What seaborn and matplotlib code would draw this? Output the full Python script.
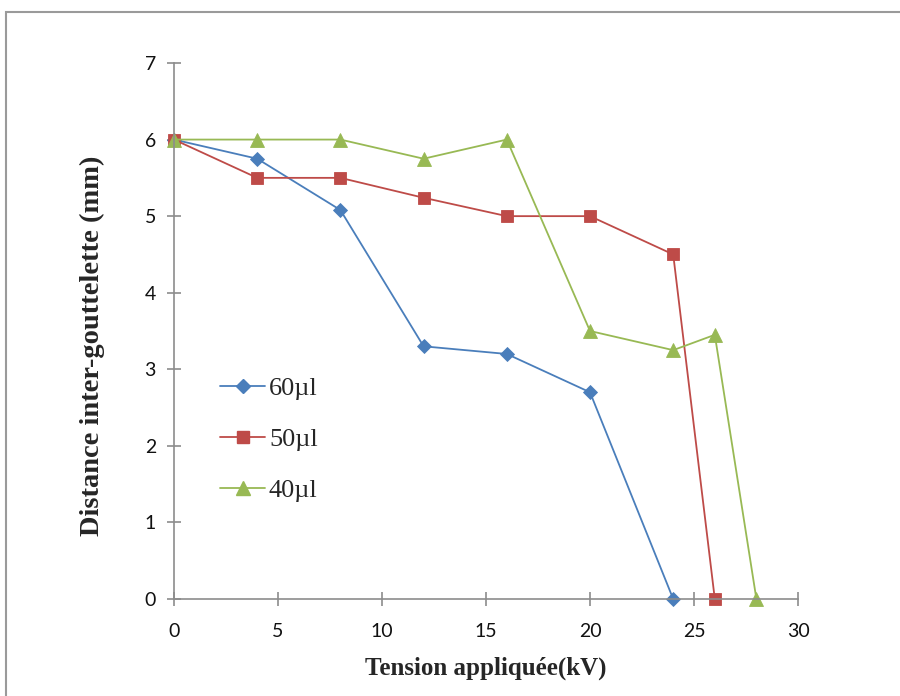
import matplotlib
matplotlib.use("Agg")
import matplotlib.pyplot as plt
import matplotlib.patches as mpatches
import seaborn as sns
import pandas as pd

# data
x_60 = [0, 4, 8, 12, 16, 20, 24]
y_60 = [6, 5.75, 5.08, 3.3, 3.2, 2.7, 0]
x_50 = [0, 4, 8, 12, 16, 20, 24, 26]
y_50 = [6, 5.5, 5.5, 5.24, 5, 5, 4.5, 0]
x_40 = [0, 4, 8, 12, 16, 20, 24, 26, 28]
y_40 = [6, 6, 6, 5.75, 6, 3.5, 3.25, 3.45, 0]
series = ["60µl", "50µl", "40µl"]

df = pd.concat([
    pd.DataFrame({"x": x_60, "y": y_60, "serie": series[0]}),
    pd.DataFrame({"x": x_50, "y": y_50, "serie": series[1]}),
    pd.DataFrame({"x": x_40, "y": y_40, "serie": series[2]}),
])

sns.set_style("white")
plt.rcParams["font.family"] = ["Lato", "DejaVu Sans"]

fig = plt.figure(figsize=(9, 6.96), dpi=100)
ax = fig.add_axes([174 / 900, 1 - 599 / 696, 624 / 900, 536 / 696])

# grey frame around the chart area
fig.patches.append(mpatches.Rectangle((6 / 900, -0.1), 1.2, 1 - 12 / 696 + 0.1,
                                      transform=fig.transFigure, fill=False,
                                      edgecolor="#9a9a9a", linewidth=1.5))

palette = {"60µl": "#4A7EBB", "50µl": "#BE4B48", "40µl": "#98B954"}
markers = {"60µl": "D", "50µl": "s", "40µl": "^"}
sizes = {"60µl": 7, "50µl": 9, "40µl": 10}

sns.lineplot(data=df, x="x", y="y", hue="serie", style="serie",
             palette=palette, markers=markers, dashes=False,
             linewidth=1.3, markersize=9, markeredgewidth=0.6,
             ax=ax, legend=False, clip_on=False)
for line, s in zip(ax.lines, series):
    line.set_markersize(sizes[s])
    line.set_markeredgecolor(palette[s])

ax.set_xlim(0, 30)
ax.set_ylim(0, 7)
ax.set_xticks(range(0, 31, 5))
ax.set_yticks(range(0, 8))
for side in ["top", "right"]:
    ax.spines[side].set_visible(False)
for side in ["left", "bottom"]:
    ax.spines[side].set_color("#8c8c8c")
    ax.spines[side].set_linewidth(1.2)
ax.tick_params(axis="both", direction="inout", length=10, width=1.2,
               bottom=True, left=True,
               color="#8c8c8c", labelsize=14, labelcolor="#111111")
ax.tick_params(axis="x", pad=12)
ax.tick_params(axis="y", pad=8)

serif = ["Liberation Serif", "DejaVu Serif"]
ax.set_xlabel("Tension appliquée(kV)", labelpad=12, family=serif, weight="bold", size=18)
ax.set_ylabel("Distance inter-gouttelette (mm)", family=serif, weight="bold", size=20.5)
ax.yaxis.set_label_coords(-0.11, 0.472)

handles = [plt.Line2D([], [], color=palette[s], marker=markers[s],
                      markersize=sizes[s], linewidth=1.3) for s in series]
ax.legend(handles, series, loc="upper left", bbox_to_anchor=(0.074, 0.415),
          frameon=False, prop={"family": serif, "size": 19},
          borderpad=0, borderaxespad=0,
          handlelength=1.7, handletextpad=0.15, labelspacing=1.05)

fig.savefig("out.png", dpi=100)
